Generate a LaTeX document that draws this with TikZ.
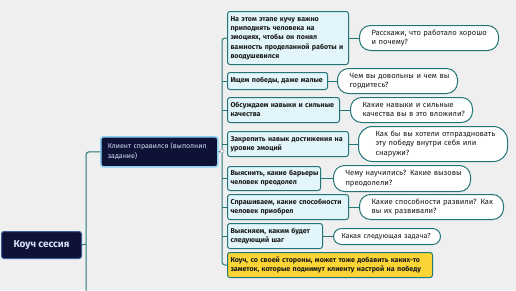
\documentclass[tikz,border=0pt]{standalone}
\usepackage{fontspec}
\setmainfont{Fira Sans}
\definecolor{bg}{HTML}{EFEFEF}
\definecolor{teal}{HTML}{237677}
\definecolor{cfill}{HTML}{E1F5FB}
\definecolor{navy}{HTML}{0E1237}
\definecolor{navyb}{HTML}{3E5C97}
\definecolor{selb}{HTML}{8FD0F2}
\definecolor{ntext}{HTML}{D6E2F6}
\definecolor{yel}{HTML}{FBD536}
\definecolor{txt}{HTML}{1B1B1B}
\newcommand{\ml}[1]{\begin{tabular}{@{}l@{}}#1\end{tabular}}
\tikzset{
  box/.style={anchor=north west, draw=teal, line width=1pt, rounded corners=2.5pt,
    fill=cfill, align=left, inner xsep=3pt, inner ysep=0pt, font=\fontsize{7.1}{9.2}\selectfont\bfseries,
    text=txt},
  resp/.style={anchor=north west, draw=teal, line width=1pt, rounded corners=11pt,
    fill=white, align=left, inner xsep=12pt, inner ysep=0pt, font=\fontsize{7.6}{9.4}\selectfont,
    text=txt},
  conn/.style={draw=teal, line width=1pt},
}
\begin{document}
\begin{tikzpicture}[x=1pt,y=1pt]
\useasboundingbox[fill=bg] (0,0) rectangle (516,-290);
% root
\node[anchor=north west, draw=navyb, line width=1pt, fill=navy, rounded corners=2.5pt,
  minimum width=80pt, minimum height=27pt, text=ntext, font=\fontsize{10}{12}\selectfont\bfseries]
  (root) at (1,-231) {Коуч сессия};
% level 1
\node[anchor=north west, draw=selb, line width=1.6pt, fill=navy, rounded corners=2.5pt,
  minimum width=117pt, minimum height=30pt, text width=107pt, inner xsep=5pt, align=left,
  text=ntext, font=\fontsize{7}{9.4}\selectfont]
  (kl) at (100,-136) {\ml{\hspace{2pt}Клиент справился (выполнил\\\hspace{2pt}задание)}};
% children
\node[box, minimum width=121pt, minimum height=53pt, text width=115pt] (c1) at (227,-11)
  {\ml{На этом этапе кучу важно\\приподнять человека на\\эмоциях, чтобы он понял\\важность проделанной работы и\\воодушевился}};
\node[box, minimum width=100pt, minimum height=17pt, text width=94pt] (c2) at (227,-72)
  {\ml{Ищем победы, даже малые}};
\node[box, minimum width=112pt, minimum height=25pt, text width=106pt] (c3) at (227,-97)
  {\ml{Обсуждаем навыки и сильные\\качества}};
\node[box, minimum width=121pt, minimum height=25pt, text width=115pt] (c4) at (227,-131)
  {\ml{Закрепить навык достижения на\\уровне эмоций}};
\node[box, minimum width=93pt, minimum height=24pt, text width=87pt] (c5) at (227,-166)
  {\ml{Выяснить, какие барьеры\\человек преодолел}};
\node[box, minimum width=121pt, minimum height=25pt, text width=115pt] (c6) at (227,-194)
  {\ml{Спрашиваем, какие способности\\человек приобрел}};
\node[box, minimum width=95pt, minimum height=25pt, text width=89pt] (c7) at (227,-223)
  {\ml{Выясняем, каким будет\\следующий шаг}};
\node[box, fill=yel, minimum width=205pt, minimum height=25pt, text width=199pt] (c8) at (227,-252)
  {\ml{Коуч, со своей стороны, может тоже добавить каких-то\\заметок, которые поднимут клиенту настрой на победу}};
% responses
\node[resp, minimum width=139pt, minimum height=25pt, text width=115pt] (r1) at (359,-25)
  {\ml{Расскажи, что работало хорошо\\и почему?}};
\node[resp, minimum width=120pt, minimum height=25pt, text width=96pt] (r2) at (337,-68)
  {\ml{Чем вы довольны и чем вы\\гордитесь?}};
\node[resp, minimum width=122pt, minimum height=25pt, text width=98pt] (r3) at (350,-97)
  {\ml{Какие навыки и сильные\\качества вы в это вложили?}};
\node[resp, rounded corners=14pt, inner xsep=17pt, minimum width=149pt, minimum height=35pt, text width=115pt] (r4) at (358,-126)
  {\ml{Как бы вы хотели отпраздновать\\эту победу внутри себя или\\снаружи?}};
\node[resp, minimum width=137pt, minimum height=26pt, text width=113pt] (r5) at (333,-165)
  {\ml{Чему научились? Какие вызовы\\преодолели?}};
\node[resp, minimum width=144pt, minimum height=25pt, text width=120pt] (r6) at (359,-194)
  {\ml{Какие способности развили? Как\\вы их развивали?}};
\node[resp, rounded corners=8pt, inner xsep=8pt, minimum width=107pt, minimum height=16pt, text width=91pt,
  font=\fontsize{7.2}{9.4}\selectfont] (r7) at (333,-228)
  {\ml{Какая следующая задача?}};
% connectors child -> response
\foreach \i in {1,...,7}{
  \draw[conn] (c\i.east) -- (c\i.east -| r\i.west);
}
% trunk of level 1
\coordinate (tx) at (222,-151);
\coordinate (rx) at (86,-244);
\coordinate (bot) at (86,-292);
\draw[conn, rounded corners=3pt] (c1.west) -| (tx) |- (c8.west);
\foreach \i in {2,...,7}{
  \draw[conn] (c\i.west) -- (c\i.west -| tx);
}
\draw[conn] (kl.east) -- (tx);
\draw[draw=gray!70, fill=bg, line width=0.5pt] (tx) circle (2pt);
% root trunk
\draw[conn] (root.east) -- (rx);
\draw[conn, rounded corners=3pt] (kl.west) -| (bot);
\end{tikzpicture}
\end{document}
